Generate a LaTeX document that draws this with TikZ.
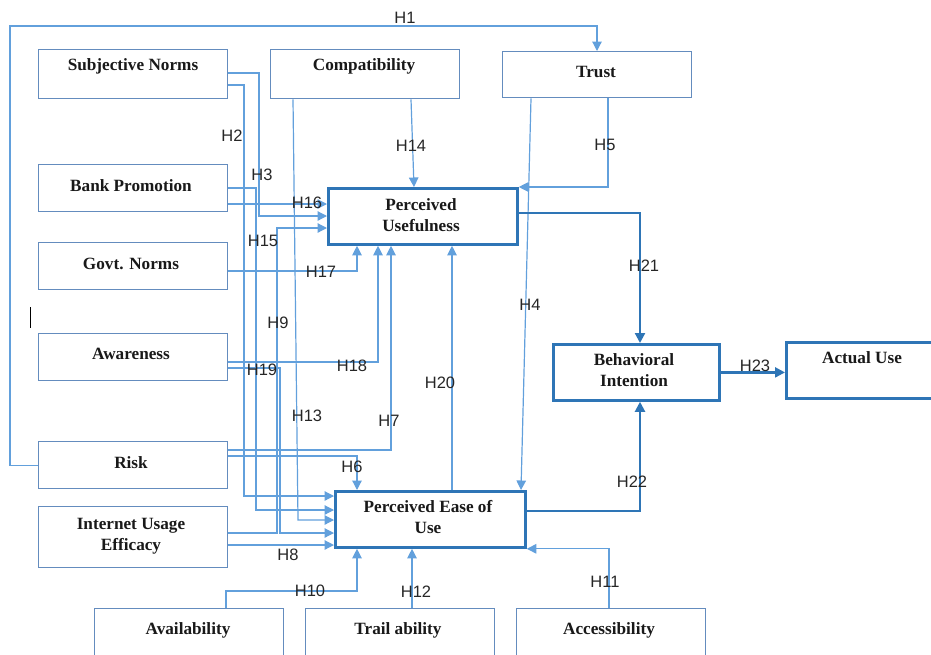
\documentclass[tikz,border=0pt]{standalone}
\usepackage{fontspec}
\setmainfont{Liberation Serif}
\newfontfamily\labsans{Liberation Sans}
\usetikzlibrary{arrows.meta}
\definecolor{boxc}{RGB}{100,140,190}
\definecolor{keyc}{RGB}{46,117,182}
\definecolor{linec}{RGB}{98,160,220}
\tikzset{
  box/.style={draw=boxc, line width=1.3pt, inner sep=0pt, anchor=north west},
  keybox/.style={draw=keyc, line width=2.8pt, inner sep=0pt, anchor=north west},
  txt/.style={font=\fontsize{17.2}{21}\selectfont\bfseries, align=center, inner sep=0pt, text=black!90},
  lab/.style={font=\labsans\fontsize{16.5}{19}\selectfont, inner sep=0pt, text=black!85},
  conn/.style={draw=linec, line width=1.2pt, -{Triangle[length=9.5pt,width=9.5pt]}},
  keyconn/.style={draw=keyc, line width=2.2pt, -{Triangle[length=10pt,width=10pt]}}
}
\begin{document}
\begin{tikzpicture}[x=1pt,y=-1pt]
\useasboundingbox (0,0) rectangle (931,654);
% boxes
\node[box, minimum width=189pt, minimum height=49pt] (sn) at (38,49) {};
\node[box, minimum width=189pt, minimum height=49pt] (cp) at (270,49) {};
\node[box, minimum width=189pt, minimum height=46pt] (tr) at (502,51) {};
\node[box, minimum width=189pt, minimum height=47pt] (bp) at (38,164) {};
\node[box, minimum width=189pt, minimum height=47pt] (gn) at (38,242) {};
\node[box, minimum width=189pt, minimum height=47pt] (aw) at (38,333) {};
\node[box, minimum width=189pt, minimum height=47pt] (rk) at (38,441) {};
\node[box, minimum width=189pt, minimum height=61pt] (iu) at (38,506) {};
\node[keybox, minimum width=189pt, minimum height=56pt] (pu) at (327,187) {};
\node[keybox, minimum width=190pt, minimum height=56pt] (pe) at (334,490) {};
\node[keybox, minimum width=166pt, minimum height=56pt] (bi) at (552,343) {};
\node[keybox, minimum width=146pt, minimum height=56pt] (au) at (785,341) {};
\node[box, minimum width=189pt, minimum height=60pt] (av) at (94,608) {};
\node[box, minimum width=189pt, minimum height=60pt] (ta) at (305,608) {};
\node[box, minimum width=189pt, minimum height=60pt] (ac) at (516,608) {};
% texts
\node[txt] (sn-t) at (133,66) {Subjective Norms};
\node[txt] (cp-t) at (364,66) {Compatibility};
\node[txt] (tr-t) at (596,72) {Trust};
\node[txt] (bp-t) at (131,186) {Bank Promotion};
\node[txt] (gn-t) at (131,264) {Govt. Norms};
\node[txt] (aw-t) at (131,354) {Awareness};
\node[txt] (rk-t) at (131,463) {Risk};
\node[txt] (iu-t) at (131,536) {Internet Usage\\Efficacy};
\node[txt] (pu-t) at (421,215) {Perceived\\Usefulness};
\node[txt] (pe-t) at (428,517) {Perceived Ease of\\Use};
\node[txt] (bi-t) at (634,370) {Behavioral\\Intention};
\node[txt] (au-t) at (862,358) {Actual Use};
\node[txt] (av-t) at (188,630) {Availability};
\node[txt] (ta-t) at (398,630) {Trail ability};
\node[txt] (ac-t) at (609,630) {Accessibility};
% connectors
\draw[conn] (rk.west) -| (10,26) -| (tr.north -| 597,0);
\draw[conn] (sn.east |- 0,85) -| (244,496) -- (pe.west |- 0,496);
\draw[conn] (sn.east |- 0,73) -| (259,216) -- (pu.west |- 0,216);
\draw[conn] (cp.south -| 411,0) -- (pu.north -| 414,0);
\draw[conn] (cp.south -| 293,0) -- (298,520) -- (pe.west |- 0,520);
\draw[conn] (tr.south -| 531,0) -- (pe.north -| 521,0);
\draw[conn] (tr.south -| 608,0) |- (pu.north east);
\draw[conn] (bp.east |- 0,204) -- (pu.west |- 0,204);
\draw[conn] (bp.east |- 0,188) -| (256,510) -- (pe.west |- 0,510);
\draw[conn] (gn.east |- 0,271) -| (pu.south -| 357,0);
\draw[conn] (aw.east |- 0,362) -| (pu.south -| 378,0);
\draw[conn] (aw.east |- 0,368) -| (280,533) -- (pe.west |- 0,533);
\draw[conn] (iu.east |- 0,533) -| (277,228) -- (pu.west |- 0,228);
\draw[conn] (iu.east |- 0,545) -- (pe.west |- 0,545);
\draw[conn] (rk.east |- 0,450) -| (pu.south -| 391,0);
\draw[conn] (rk.east |- 0,456) -| (pe.north -| 357,0);
\draw[conn] (pe.north -| 452,0) -- (pu.south -| 452,0);
\draw[conn] (av.north -| 226,0) -- (226,591) -| (pe.south -| 357,0);
\draw[conn] (ta.north -| 412,0) -- (pe.south -| 412,0);
\draw[conn] (ac.north -| 609,0) |- (pe.south east);
\draw[keyconn] (pu.east |- 0,213) -| (bi.north -| 640,0);
\draw[keyconn] (pe.east |- 0,511) -| (bi.south -| 640,0);
\draw[keyconn] (bi.east) -- (au.west |- bi.east);
% labels
\node[lab] (l1) at (405,18) {H1};
\node[lab] (l2) at (232,136) {H2};
\node[lab] (l3) at (262,175) {H3};
\node[lab] (l14) at (411,146) {H14};
\node[lab] (l5) at (605,145) {H5};
\node[lab] (l16) at (307,203) {H16};
\node[lab] (l15) at (263,241) {H15};
\node[lab] (l17) at (321,272) {H17};
\node[lab] (l21) at (644,266) {H21};
\node[lab] (l9) at (278,323) {H9};
\node[lab] (l4) at (530,305) {H4};
\node[lab] (l18) at (352,366) {H18};
\node[lab] (l19) at (262,370) {H19};
\node[lab] (l20) at (440,383) {H20};
\node[lab] (l13) at (307,416) {H13};
\node[lab] (l7) at (389,421) {H7};
\node[lab] (l6) at (352,467) {H6};
\node[lab] (l22) at (632,482) {H22};
\node[lab] (l8) at (288,555) {H8};
\node[lab] (l10) at (310,591) {H10};
\node[lab] (l12) at (416,592) {H12};
\node[lab] (l11) at (605,582) {H11};
\node[lab] (l23) at (755,366) {H23};
% stray cursor mark
\draw[black, line width=0.8pt] (30,307) -- (30,328);
\end{tikzpicture}
\end{document}
